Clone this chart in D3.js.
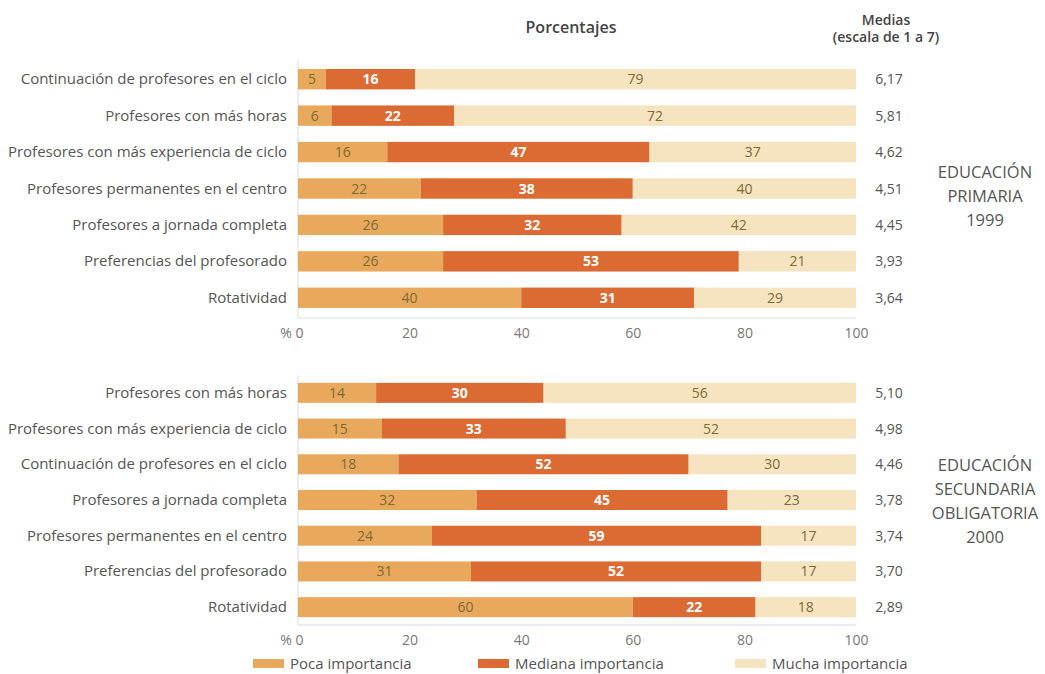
<!DOCTYPE html>
<html><head><meta charset="utf-8">
<script src="https://cdn.jsdelivr.net/npm/d3@7"></script>
<style>
body{margin:0;background:#fff;}
text{font-family:"Open Sans",sans-serif;}
</style></head>
<body><svg id="c" width="1045" height="674"></svg>
<script>
const categories1 = ["Continuación de profesores en el ciclo","Profesores con más horas","Profesores con más experiencia de ciclo","Profesores permanentes en el centro","Profesores a jornada completa","Preferencias del profesorado","Rotatividad"];
const poca1 = [5,6,16,22,26,26,40];
const mediana1 = [16,22,47,38,32,53,31];
const mucha1 = [79,72,37,40,42,21,29];
const medias1 = ["6,17","5,81","4,62","4,51","4,45","3,93","3,64"];

const categories2 = ["Profesores con más horas","Profesores con más experiencia de ciclo","Continuación de profesores en el ciclo","Profesores a jornada completa","Profesores permanentes en el centro","Preferencias del profesorado","Rotatividad"];
const poca2 = [14,15,18,32,24,31,60];
const mediana2 = [30,33,52,45,59,52,22];
const mucha2 = [56,52,30,23,17,17,18];
const medias2 = ["5,10","4,98","4,46","3,78","3,74","3,70","2,89"];

const seriesNames = ["Poca importancia","Mediana importancia","Mucha importancia"];
const tickValues = [0,20,40,60,80,100];
const group1 = ["EDUCACIÓN","PRIMARIA","1999"];
const group2 = ["EDUCACIÓN","SECUNDARIA","OBLIGATORIA","2000"];

const colors = ["#E9A95C","#DB6A33","#F6E3C0"];
const textColors = ["#7d6a35","#ffffff","#7d6a35"];

const svg = d3.select("#c");
const x = d3.scaleLinear().domain([0,100]).range([298,856]);

svg.append("text").attr("x",571).attr("y",33).attr("text-anchor","middle")
  .attr("font-size",16).attr("fill","#444").attr("font-weight","600").text("Porcentajes");
svg.append("text").attr("x",886).attr("y",25).attr("text-anchor","middle")
  .attr("font-size",14).attr("fill","#444").attr("font-weight","600").text("Medias");
svg.append("text").attr("x",886).attr("y",42).attr("text-anchor","middle")
  .attr("font-size",14).attr("fill","#444").attr("font-weight","600").text("(escala de 1 a 7)");

function panel(cats, p, m, mu, medias, top, bottom, axisY, grp, grpY){
  const y = d3.scaleBand().domain(cats).range([top,bottom]).paddingInner(0.44).paddingOuter(0.22);
  const g = svg.append("g");
  g.append("line").attr("x1",x(0)).attr("x2",x(0)).attr("y1",top).attr("y2",axisY)
    .attr("stroke","#d5dde3").attr("stroke-width",1);
  g.append("line").attr("x1",x(0)).attr("x2",x(100)).attr("y1",axisY).attr("y2",axisY)
    .attr("stroke","#d5dde3").attr("stroke-width",1);
  const rows = cats.map((c,i)=>({c, vals:[p[i],m[i],mu[i]], med:medias[i]}));
  rows.forEach(r=>{
    let acc=0;
    r.vals.forEach((v,k)=>{
      const x0=acc, x1 = k===2 ? 100 : acc+v;
      g.append("rect").attr("x",x(x0)).attr("y",y(r.c)).attr("width",x(x1)-x(x0))
        .attr("height",y.bandwidth()).attr("fill",colors[k]);
      g.append("text").attr("x",(x(x0)+x(x1))/2).attr("y",y(r.c)+y.bandwidth()/2+5)
        .attr("text-anchor","middle").attr("font-size",14)
        .attr("font-weight",k===1?"700":"400").attr("fill",textColors[k]).text(v);
      acc+=v;
    });
    g.append("text").attr("x",287).attr("y",y(r.c)+y.bandwidth()/2+5).attr("text-anchor","end")
      .attr("font-size",15).attr("fill","#555").text(r.c);
    g.append("text").attr("x",889).attr("y",y(r.c)+y.bandwidth()/2+5).attr("text-anchor","middle")
      .attr("font-size",14).attr("fill","#555").text(r.med);
  });
  const ax = g.append("g").attr("transform",`translate(0,${axisY})`)
    .call(d3.axisBottom(x).tickValues(tickValues).tickSize(0).tickPadding(10)
      .tickFormat(d=> d===0 ? "% 0" : d));
  ax.select(".domain").remove();
  ax.selectAll("text").attr("font-size",14).attr("fill","#777").attr("font-family","Open Sans, sans-serif");
  ax.selectAll(".tick").filter(d=>d===0).select("text").attr("text-anchor","end").attr("dx",5);
  grp.forEach((t,i)=>{
    g.append("text").attr("x",985).attr("y",grpY+i*24).attr("text-anchor","middle")
      .attr("font-size",16.5).attr("fill","#555").text(t);
  });
}

panel(categories1,poca1,mediana1,mucha1,medias1,61,316,318,group1,178);
panel(categories2,poca2,mediana2,mucha2,medias2,375,625,625,group2,471);

const lg = svg.append("g");
const lx = [253,478,735];
seriesNames.forEach((s,i)=>{
  lg.append("rect").attr("x",lx[i]).attr("y",659).attr("width",31).attr("height",9).attr("fill",colors[i]);
  lg.append("text").attr("x",lx[i]+37).attr("y",669).attr("font-size",15).attr("fill","#555").text(s);
});
</script></body></html>
